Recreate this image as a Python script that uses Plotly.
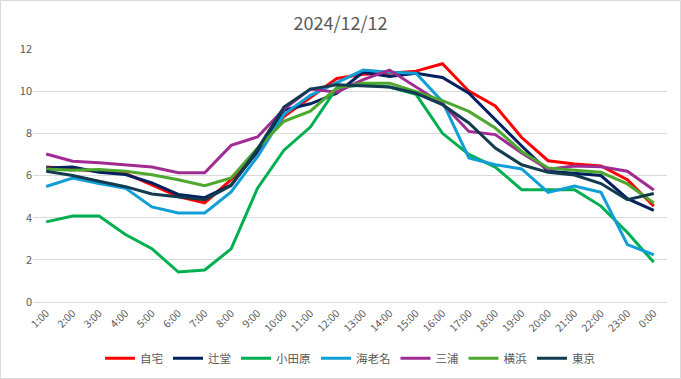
import plotly.graph_objects as go

hours = ["1:00", "2:00", "3:00", "4:00", "5:00", "6:00", "7:00", "8:00", "9:00", "10:00",
         "11:00", "12:00", "13:00", "14:00", "15:00", "16:00", "17:00", "18:00", "19:00",
         "20:00", "21:00", "22:00", "23:00", "0:00"]

jitaku = [6.4, 6.3, 6.2, 6.1, 5.55, 5.0, 4.7, 5.8, 7.1, 8.8, 9.7, 10.6, 10.8, 10.85, 10.95,
          11.3, 10.0, 9.3, 7.8, 6.7, 6.55, 6.45, 5.8, 4.55]
tsujido = [6.35, 6.4, 6.15, 6.05, 5.65, 5.1, 4.95, 5.55, 7.15, 9.1, 9.4, 9.9, 10.9, 10.7,
           10.85, 10.65, 9.9, 8.65, 7.4, 6.2, 6.1, 6.0, 4.9, 4.35]
odawara = [3.8, 4.08, 4.08, 3.2, 2.53, 1.42, 1.52, 2.52, 5.4, 7.2, 8.3, 10.15, 10.3, 10.2,
           9.85, 8.0, 7.0, 6.4, 5.33, 5.33, 5.33, 4.55, 3.3, 1.88]
ebina = [5.48, 5.88, 5.62, 5.4, 4.51, 4.22, 4.22, 5.22, 6.9, 8.9, 9.8, 10.4, 11.0, 10.9,
         10.85, 9.5, 6.83, 6.51, 6.31, 5.2, 5.5, 5.2, 2.72, 2.24]
miura = [7.02, 6.68, 6.6, 6.51, 6.4, 6.13, 6.13, 7.43, 7.83, 9.15, 10.1, 9.95, 10.55, 11.0,
         10.2, 9.4, 8.09, 7.94, 7.07, 6.3, 6.45, 6.42, 6.2, 5.31]
yokohama = [6.31, 6.25, 6.28, 6.2, 6.04, 5.8, 5.52, 5.88, 7.3, 8.57, 9.05, 10.15, 10.38,
            10.38, 9.97, 9.55, 9.04, 8.25, 7.14, 6.36, 6.25, 6.15, 5.6, 4.7]
tokyo = [6.2, 6.0, 5.73, 5.47, 5.12, 4.98, 4.85, 5.52, 7.25, 9.25, 10.1, 10.3, 10.25, 10.2,
         9.9, 9.36, 8.49, 7.3, 6.51, 6.15, 6.02, 5.62, 4.85, 5.15]

series = [
    ("自宅", jitaku, "#FF0000"),
    ("辻堂", tsujido, "#002060"),
    ("小田原", odawara, "#00B050"),
    ("海老名", ebina, "#0F9ED5"),
    ("三浦", miura, "#A02B93"),
    ("横浜", yokohama, "#4EA72E"),
    ("東京", tokyo, "#123B4F"),
]

font_family = "Noto Sans CJK JP, Noto Sans, sans-serif"
grey = "#595959"

fig = go.Figure()
for name, vals, color in series:
    fig.add_trace(go.Scatter(x=hours, y=vals, name=name, mode="lines",
                             line=dict(color=color, width=3)))

fig.update_layout(
    width=681, height=379, autosize=False,
    paper_bgcolor="white", plot_bgcolor="white",
    margin=dict(l=33, r=14, t=49, b=77, autoexpand=False),
    title=dict(text="2024/12/12", x=0.5, xanchor="center", y=0.937, yanchor="middle",
               font=dict(family=font_family, size=18, color=grey)),
    font=dict(family=font_family, size=11, color=grey),
    showlegend=True,
    legend=dict(orientation="h", x=0.5, xanchor="center", yref="container", y=0.055,
                yanchor="middle", font=dict(size=11.5, color=grey), itemwidth=30,
                tracegroupgap=0, bgcolor="rgba(0,0,0,0)"),
    xaxis=dict(type="category", range=[-0.5, 23.5], tickangle=-45, showgrid=False,
               showline=True, linecolor="#D9D9D9", linewidth=1, ticks="",
               tickfont=dict(size=10.5, color=grey), automargin=False, fixedrange=True),
    yaxis=dict(range=[0, 12], dtick=2, showgrid=True, gridcolor="#D9D9D9", gridwidth=1,
               zeroline=False, showline=False, ticks="", tickfont=dict(size=11, color=grey),
               automargin=False, fixedrange=True),
    shapes=[dict(type="rect", xref="paper", yref="paper", x0=-32.5/634, x1=1 + 13.5/634,
                 y0=-76.5/253, y1=1 + 48.5/253, line=dict(color="#D9D9D9", width=1),
                 fillcolor="rgba(0,0,0,0)", layer="below")],
)

fig.write_html("out.html", config={"displayModeBar": False},
               post_script="document.body.style.margin='0px';document.body.style.overflow='hidden';")
